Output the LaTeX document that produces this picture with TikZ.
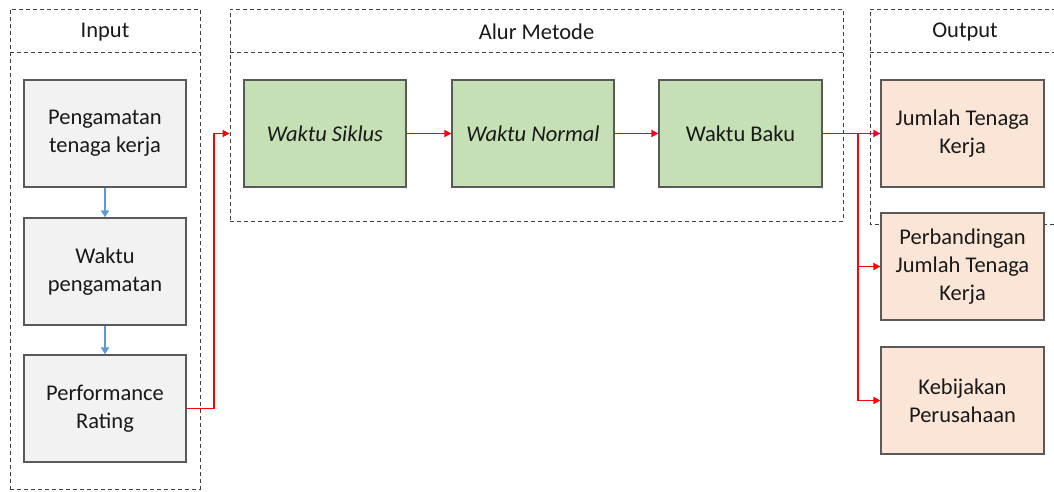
\documentclass[tikz,border=0pt]{standalone}
\usepackage{fontspec}
\setmainfont{Carlito}
\usetikzlibrary{arrows.meta}
\definecolor{boxline}{HTML}{595959}
\definecolor{dashc}{HTML}{404040}
\definecolor{grayfill}{HTML}{F2F2F2}
\definecolor{greenfill}{HTML}{C5E0B4}
\definecolor{orangefill}{HTML}{FBE5D6}
\definecolor{bluearr}{HTML}{5B9BD5}
\definecolor{redarr}{HTML}{FF0000}
\tikzset{
  txt/.style={font=\fontsize{22.5}{28}\selectfont, text=black!90, align=center},
  stepbox/.style={txt, draw=boxline, line width=1.3pt, inner sep=0pt, minimum width=162pt, minimum height=107pt},
  inbox/.style={stepbox, fill=grayfill},
  grbox/.style={stepbox, fill=greenfill},
  outbox/.style={stepbox, fill=orangefill, minimum width=163pt},
  dashbox/.style={draw=dashc, line width=0.9pt, dash pattern=on 4pt off 3pt},
  bluearrow/.style={draw=bluearr, line width=2.5pt, -{Triangle[length=7pt,width=8pt]}},
  redarrow/.style={draw=redarr, line width=1.8pt, -{Triangle[length=7pt,width=7pt]}},
  header/.style={txt}
}
\begin{document}
\begin{tikzpicture}[x=1pt,y=-1pt]
\useasboundingbox (0,0) rectangle (1054,491);
% containers
\node[dashbox, minimum width=190pt, minimum height=480pt, inner sep=0pt] (inbx) at (105,249) {};
\draw[dashbox] (inbx.west |- 0,52) -- (inbx.east |- 0,52);
\node[header] (hin) at (105,32) {Input};
\node[dashbox, minimum width=613pt, minimum height=212pt, inner sep=0pt] (alur) at (536.5,115) {};
\draw[dashbox] (alur.west |- 0,52) -- (alur.east |- 0,52);
\node[header] (halur) at (536.5,32) {Alur Metode};
\coordinate (oa) at (1056,9);
\coordinate (ob) at (870,9);
\coordinate (oc) at (870,224);
\coordinate (od) at (1056,224);
\draw[dashbox] (oa) -- (ob) -- (oc) -- (od);
\draw[dashbox] (ob |- 0,52) -- (oa |- 0,52);
\node[header] (hout) at (965,32) {Output};
% input nodes
\node[inbox] (p1) at (105,133.5) {Pengamatan\\tenaga kerja};
\node[inbox] (p2) at (105,271.5) {Waktu\\pengamatan};
\node[inbox] (p3) at (105,408.5) {Performance\\Rating};
% method nodes
\node[grbox] (siklus) at (325,133.5) {\itshape Waktu Siklus};
\node[grbox] (normal) at (533,133.5) {\itshape Waktu Normal};
\node[grbox, minimum width=163pt] (baku) at (740.5,133.5) {Waktu Baku};
% output nodes
\node[outbox] (jumlah) at (962.5,133.5) {Jumlah Tenaga\\Kerja};
\node[outbox] (perb) at (962.5,266.5) {Perbandingan\\Jumlah Tenaga\\Kerja};
\node[outbox] (kebij) at (962.5,400.5) {Kebijakan\\Perusahaan};
% connectors
\draw[bluearrow] (p1) -- (p2);
\draw[bluearrow] (p2) -- (p3);
\coordinate (bend) at (214,0);
\draw[redarrow] (p3.east) -| (bend |- siklus) -- (alur.west |- siklus);
\draw[redarrow] (siklus) -- (normal);
\draw[redarrow] (normal) -- (baku);
\draw[redarrow] (baku) -- (jumlah);
\coordinate (br) at (858,133.5);
\draw[redarrow] (br) |- (perb.west);
\draw[redarrow] (br) |- (kebij.west);
\end{tikzpicture}
\end{document}
